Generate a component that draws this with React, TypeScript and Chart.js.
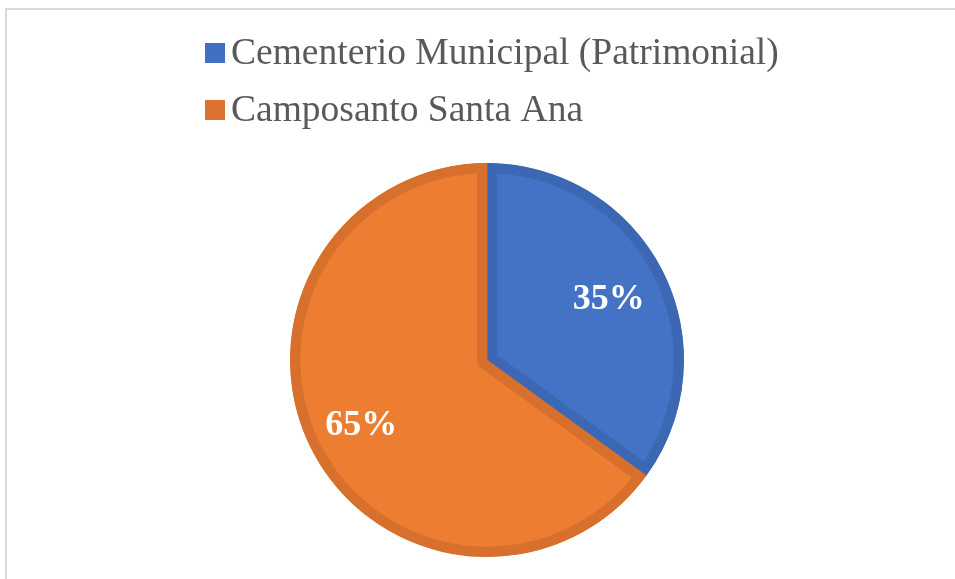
import React, { useEffect, useRef } from "react";
import { Chart, registerables } from "chart.js";

Chart.register(...registerables);

const categories = ["Cementerio Municipal (Patrimonial)", "Camposanto Santa Ana"];
const values = [35, 65];
const valueLabels = ["35%", "65%"];
const fillColors = ["#4472C4", "#ED7D31"];
const borderColors = ["#3C67B3", "#D6702C"];
const legendColors = ["#4270C0", "#DD7230"];

const FONT = "'Liberation Serif', 'Times New Roman', serif";

const customPlugin = {
  id: "customDecor",
  afterDraw(chart: any) {
    const ctx = chart.ctx;
    const meta = chart.getDatasetMeta(0);
    ctx.save();
    // slice labels
    ctx.fillStyle = "#FFFFFF";
    ctx.font = `bold 36px ${FONT}`;
    ctx.textAlign = "center";
    ctx.textBaseline = "middle";
    meta.data.forEach((arc: any, i: number) => {
      const { x, y, startAngle, endAngle, outerRadius } = arc.getProps(
        ["x", "y", "startAngle", "endAngle", "outerRadius"],
        true
      );
      const mid = (startAngle + endAngle) / 2;
      const r = outerRadius * 0.705;
      ctx.fillText(valueLabels[i], x + Math.cos(mid) * r - 2, y + Math.sin(mid) * r + 3);
    });
    // legend
    ctx.font = `37.5px ${FONT}`;
    ctx.textAlign = "left";
    ctx.textBaseline = "middle";
    const rowsY = [53, 110];
    chart.data.labels.forEach((lab: string, i: number) => {
      const cy = rowsY[i];
      ctx.fillStyle = legendColors[i];
      ctx.fillRect(205, cy - 10, 20, 20);
      ctx.fillStyle = "#595959";
      ctx.fillText(lab, 231, cy + 1);
    });
    ctx.restore();
  },
};

export default function App() {
  const ref = useRef<HTMLCanvasElement | null>(null);
  useEffect(() => {
    if (!ref.current) return;
    const chart = new Chart(ref.current, {
      type: "pie",
      data: {
        labels: categories,
        datasets: [
          {
            data: values,
            backgroundColor: fillColors,
            borderColor: borderColors,
            borderWidth: 10,
            borderAlign: "inner",
          } as any,
        ],
      },
      options: {
        animation: false,
        responsive: false,
        maintainAspectRatio: false,
        radius: 197,
        layout: { padding: { top: 160, bottom: 19, left: 20, right: 1 } },
        plugins: {
          legend: { display: false },
          tooltip: { enabled: false },
        },
      } as any,
      plugins: [customPlugin],
    });
    return () => chart.destroy();
  }, []);
  return (
    <div
      style={{
        position: "fixed",
        left: 0,
        top: 0,
        width: 955,
        height: 579,
        overflow: "hidden",
        background: "#FFFFFF",
      }}
    >
      <div
        style={{
          position: "absolute",
          left: 5,
          top: 8,
          width: 2000,
          height: 2000,
          borderTop: "2px solid #D9D9D9",
          borderLeft: "2px solid #D9D9D9",
        }}
      />
      <canvas
        ref={ref}
        width={955}
        height={579}
        style={{ position: "absolute", left: 0, top: 0, width: 955, height: 579 }}
      />
    </div>
  );
}
